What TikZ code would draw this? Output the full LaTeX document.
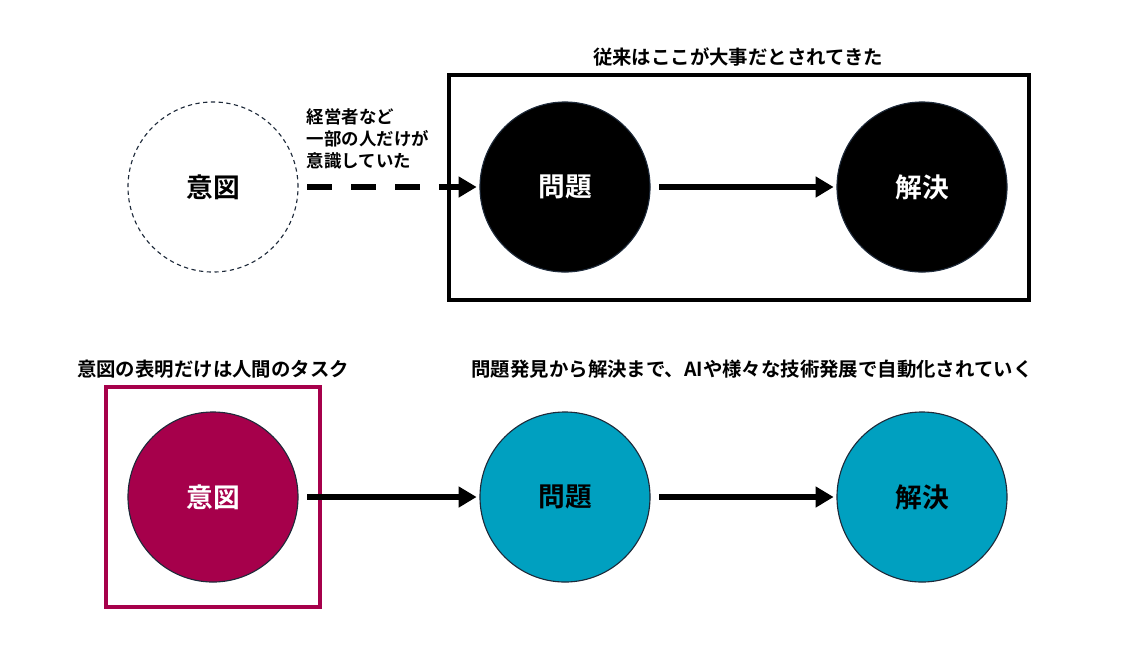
\documentclass[tikz,border=0pt]{standalone}
\usepackage{fontspec}
\setmainfont{Noto Sans CJK JP}[BoldFont={Noto Sans CJK JP Bold}]
\usetikzlibrary{arrows.meta,positioning}
\definecolor{intentred}{HTML}{A6004B}
\definecolor{autoteal}{HTML}{00A0C0}
\definecolor{edgedark}{HTML}{1E2A3A}
\begin{document}
\begin{tikzpicture}[
    x=0.025cm, y=-0.025cm,
    bubble/.style={circle, minimum size=4.25cm, inner sep=0pt, font=\fontsize{19}{21}\selectfont\bfseries, line width=0.8pt},
    arrow/.style={-{Triangle[length=0.45cm,width=0.5cm]}, line width=3.6pt, shorten <=0.22cm, shorten >=0.07cm},
    frame/.style={line width=2.2pt},
    heading/.style={font=\fontsize{13.8}{16}\selectfont\bfseries},
    lab/.style={font=\fontsize{12.4}{15.5}\selectfont\bfseries, align=left, anchor=west}
  ]
    \useasboundingbox (0,0) rectangle (1140,667);

    % upper row: former view
    \draw[frame] (449,75) rectangle (1029,300);
    \node[heading] (oldcap) at (738,57) {従来はここが大事だとされてきた};
    \node[bubble, draw=edgedark, dashed, dash pattern=on 3pt off 2.5pt] (oi) at (213,187) {意図};
    \node[bubble, draw=edgedark, fill=black, text=white] (op) at (565,187) {問題};
    \node[bubble, draw=edgedark, fill=black, text=white] (os) at (922,187) {解決};
    \node[lab] (olab) at (302,139) {経営者など\\一部の人だけが\\意識していた};

    \draw[arrow, dash pattern=on 0.625cm off 0.47cm] (oi) -- (op);
    \draw[arrow] (op) -- (os);

    % lower row: automated view
    \draw[frame, draw=intentred] (106,387) rectangle (320,607);
    \node[heading] (hcap) at (213,369) {意図の表明だけは人間のタスク};
    \node[heading] (acap) at (752,369) {問題発見から解決まで、AIや様々な技術発展で自動化されていく};
    \node[bubble, draw=edgedark, fill=intentred, text=white] (ni) at (213,497) {意図};
    \node[bubble, draw=edgedark, fill=autoteal] (np) at (565,497) {問題};
    \node[bubble, draw=edgedark, fill=autoteal] (ns) at (922,497) {解決};

    \draw[arrow] (ni) -- (np);
    \draw[arrow] (np) -- (ns);
  \end{tikzpicture}
\end{document}
